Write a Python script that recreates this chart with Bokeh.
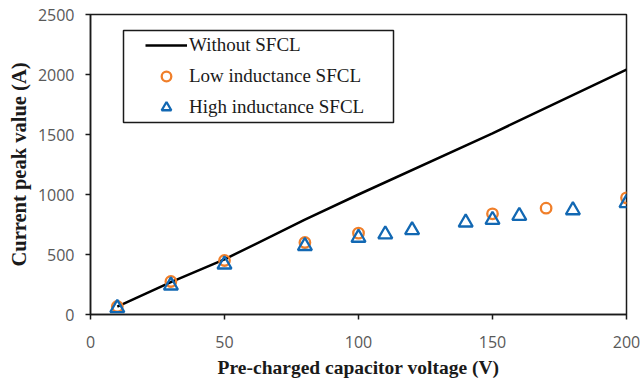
from bokeh.plotting import figure
from bokeh.models import (ColumnDataSource, FixedTicker, Legend, LegendItem,
                          BoxAnnotation, Range1d)
from bokeh.embed import file_html
from bokeh.resources import INLINE

# Pre-charged capacitor voltage (V)
voltage_line = [10, 30, 50, 80, 100, 150, 200]
# Peak current without the SFCL (A)
current_no_sfcl = [65, 270, 460, 790, 1000, 1510, 2040]

voltage_low = [10, 30, 50, 80, 100, 150, 170, 200]
current_low = [67, 275, 450, 600, 678, 839, 886, 972]

voltage_high = [10, 30, 50, 80, 100, 110, 120, 140, 150, 160, 180, 200]
current_high = [54, 242, 417, 571, 640, 668, 703, 767, 789, 822, 869, 929]

x_ticks = [0, 50, 100, 150, 200]
y_ticks = [0, 500, 1000, 1500, 2000, 2500]

ORANGE = "#F07F2A"
BLUE = "#1268B3"
AXIS = "#1a1a1a"

p = figure(width=641, height=382, output_backend="svg", toolbar_location=None,
           x_range=Range1d(0, 200), y_range=Range1d(0, 2500),
           min_border_left=90, min_border_right=15, min_border_top=14,
           min_border_bottom=68)

p.xgrid.visible = False
p.ygrid.visible = False
p.outline_line_color = AXIS
p.outline_line_width = 1.5
p.background_fill_color = "white"
p.border_fill_color = "white"

src_line = ColumnDataSource(dict(x=voltage_line, y=current_no_sfcl))
src_low = ColumnDataSource(dict(x=voltage_low, y=current_low))
src_high = ColumnDataSource(dict(x=voltage_high, y=current_high))

r_line = p.line("x", "y", source=src_line, line_color="black", line_width=2.5)
r_low = p.scatter("x", "y", source=src_low, marker="circle", size=10.5,
                  fill_alpha=0, line_color=ORANGE, line_width=2.3)
r_high = p.scatter("x", "y", source=src_high, marker="triangle", size=14,
                   fill_alpha=0, line_color=BLUE, line_width=2.3)

for ax in (p.xaxis[0], p.yaxis[0]):
    ax.axis_line_color = AXIS
    ax.axis_line_width = 1.5
    ax.major_tick_line_color = AXIS
    ax.major_tick_line_width = 1.5
    ax.major_tick_in = 0
    ax.major_tick_out = 5
    ax.minor_tick_line_color = None
    ax.major_label_text_font = "Open Sans"
    ax.major_label_text_font_size = "16px"
    ax.major_label_text_color = "#595959"
    ax.axis_label_text_font = "Liberation Serif"
    ax.axis_label_text_font_style = "bold"
    ax.axis_label_text_color = "#1a1a1a"

p.xaxis.ticker = FixedTicker(ticks=x_ticks)
p.yaxis.ticker = FixedTicker(ticks=y_ticks)
p.xaxis.axis_label = "Pre-charged capacitor voltage (V)"
p.yaxis.axis_label = "Current peak value (A)"
p.xaxis.axis_label_text_font_size = "19.5px"
p.yaxis.axis_label_text_font_size = "20.5px"
p.xaxis.major_label_standoff = 16
p.yaxis.major_label_standoff = 11
p.xaxis.axis_label_standoff = 6
p.yaxis.axis_label_standoff = 5

legend = Legend(items=[
    LegendItem(label="Without SFCL", renderers=[r_line]),
    LegendItem(label="Low inductance SFCL", renderers=[r_low]),
    LegendItem(label="High inductance SFCL", renderers=[r_high]),
], location=(55, 192), padding=0, margin=0, spacing=1,
   glyph_width=42, glyph_height=24, label_height=30, label_standoff=2,
   label_text_font="Liberation Serif", label_text_font_size="19px",
   label_text_color="#1a1a1a", border_line_alpha=0,
   background_fill_alpha=0)
p.add_layout(legend)

# frame drawn around the legend entries
legend_frame = BoxAnnotation(left=33, right=303, top=284, bottom=192,
                             left_units="screen", right_units="screen",
                             top_units="screen", bottom_units="screen",
                             fill_alpha=0, line_color=AXIS, line_width=1.5,
                             line_alpha=1)
p.add_layout(legend_frame)

open("out.html", "w").write(file_html(p, INLINE))
